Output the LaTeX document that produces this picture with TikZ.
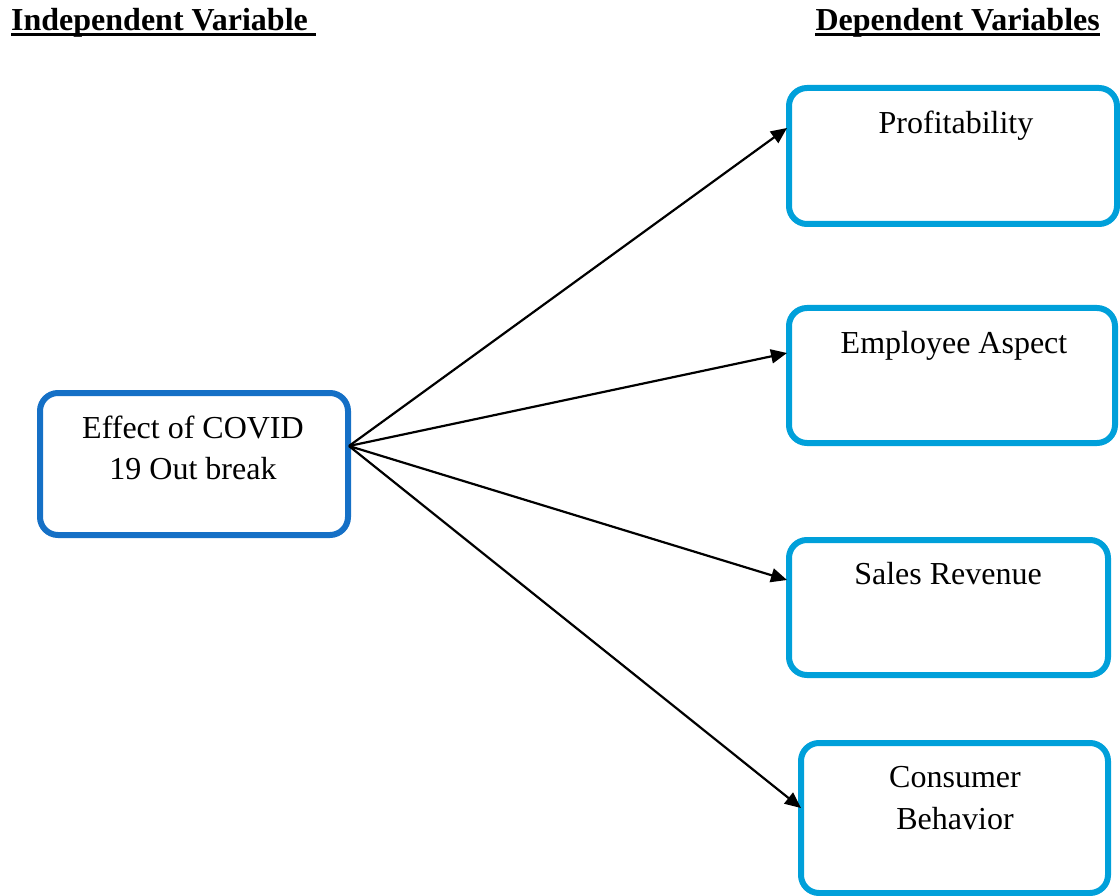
\documentclass[tikz,border=0pt]{standalone}
\usepackage{fontspec}
\setmainfont{Liberation Serif}
\usetikzlibrary{arrows.meta}
\definecolor{leftblue}{HTML}{1570C6}
\definecolor{rightblue}{HTML}{00A0DA}
\begin{document}
\begin{tikzpicture}[x=1pt,y=-1pt,
  box/.style={draw=#1,line width=6pt,rounded corners=18pt,inner sep=0pt},
  lbl/.style={font=\fontsize{32}{41}\selectfont,inner sep=0pt,anchor=base},
  hdr/.style={font=\fontsize{32}{41}\selectfont\bfseries,inner sep=0pt},
  ul/.style={line width=3pt},
  conn/.style={line width=2.2pt,-{Triangle[length=16pt 0,width=14pt 0]}}]
\useasboundingbox (0,0) rectangle (1120,896);
% headers
\node[hdr,anchor=base west] (h1) at (11,31) {Independent Variable};
\node[hdr,anchor=base east] (h2) at (1100,31) {Dependent Variables};
\draw[ul] ([yshift=-3.5pt]h1.base west) -- ([xshift=8pt,yshift=-3.5pt]h1.base east);
\draw[ul] ([yshift=-3.5pt]h2.base west) -- ([yshift=-3.5pt]h2.base east);
% boxes
\node[box=leftblue,minimum width=308pt,minimum height=142pt] (src) at (194,464) {};
\node[box=rightblue,minimum width=328pt,minimum height=136pt] (prof) at (953,156) {};
\node[box=rightblue,minimum width=326pt,minimum height=135pt] (emp) at (952,375.5) {};
\node[box=rightblue,minimum width=319pt,minimum height=135pt] (sales) at (948.5,607.5) {};
\node[box=rightblue,minimum width=307pt,minimum height=150pt] (cons) at (954.5,818) {};
% labels
\node[lbl] (t1a) at (193,438) {Effect of COVID};
\node[lbl] (t1b) at (193,479) {19 Out break};
\node[lbl] (t2) at (956,134) {Profitability};
\node[lbl] (t3) at (954,353) {Employee Aspect};
\node[lbl] (t4) at (948,584) {Sales Revenue};
\node[lbl] (t5a) at (955,787) {Consumer};
\node[lbl] (t5b) at (955,829) {Behavior};
% connectors
\coordinate (o) at (349,446);
\coordinate (ip) at (787,128);
\coordinate (ie) at (787,353);
\coordinate (is) at (787,580);
\coordinate (ic) at (801,808);
\draw[conn] (o) -- (ip);
\draw[conn] (o) -- (ie);
\draw[conn] (o) -- (is);
\draw[conn] (o) -- (ic);
\end{tikzpicture}
\end{document}
